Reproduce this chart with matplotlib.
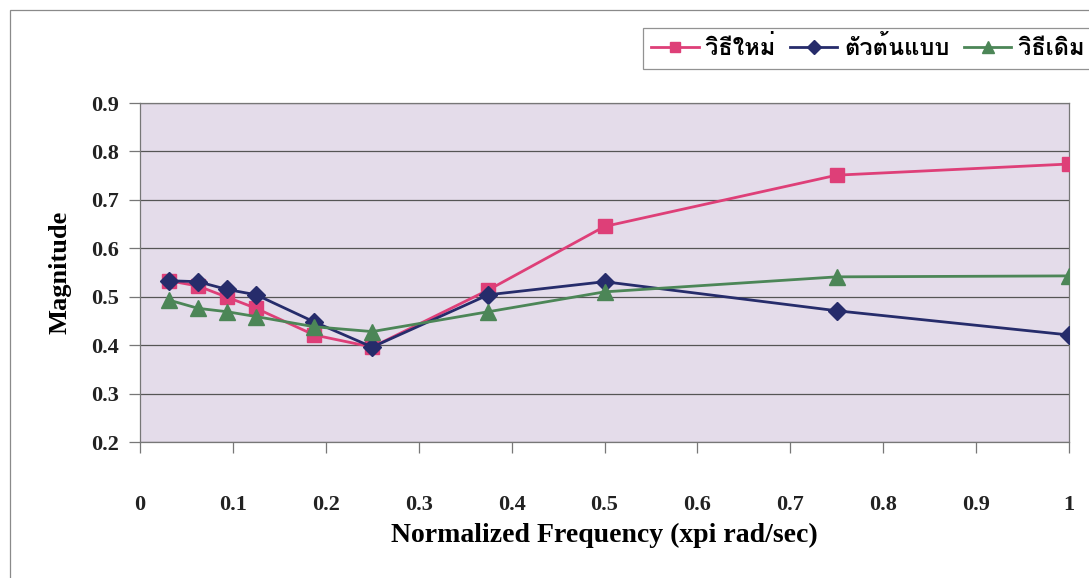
import matplotlib
matplotlib.use("Agg")
import matplotlib.pyplot as plt
from matplotlib import font_manager
from matplotlib.patches import Rectangle

# ---- data ----
freq = [0.03125, 0.0625, 0.09375, 0.125, 0.1875, 0.25, 0.375, 0.5, 0.75, 1.0]
new_method = [0.533, 0.522, 0.499, 0.476, 0.421, 0.396, 0.514, 0.645, 0.751, 0.774]
prototype = [0.533, 0.531, 0.515, 0.504, 0.448, 0.396, 0.504, 0.531, 0.471, 0.421]
old_method = [0.493, 0.476, 0.469, 0.459, 0.438, 0.428, 0.469, 0.510, 0.541, 0.543]
series_names = ["วิธีใหม่", "ตัวต้นแบบ", "วิธีเดิม"]
xticks = [0, 0.1, 0.2, 0.3, 0.4, 0.5, 0.6, 0.7, 0.8, 0.9, 1.0]
xticklabels = ["0", "0.1", "0.2", "0.3", "0.4", "0.5", "0.6", "0.7", "0.8", "0.9", "1"]
yticks = [0.2, 0.3, 0.4, 0.5, 0.6, 0.7, 0.8, 0.9]
yticklabels = ["0.2", "0.3", "0.4", "0.5", "0.6", "0.7", "0.8", "0.9"]

# ---- find a font with Thai glyphs ----
thai_font = None
try:
    from fontTools.ttLib import TTFont
    for fe in font_manager.fontManager.ttflist:
        try:
            tt = TTFont(fe.fname, fontNumber=0, lazy=True)
            cmap = tt.getBestCmap()
            if cmap and 0x0E27 in cmap and 0x0E34 in cmap:
                thai_font = fe.name
                if "bold" in str(fe.weight).lower() or fe.weight in (600, 700, 800):
                    break
        except Exception:
            continue
except Exception:
    pass
thai_family = [thai_font, "DejaVu Sans"] if thai_font else ["DejaVu Sans"]

serif = "Liberation Serif"

fig = plt.figure(figsize=(10.89, 5.78), dpi=100)
fig.patch.set_facecolor("white")

# outer chart border
fig.patches.append(Rectangle((10 / 1089, -0.05), 1.2, (578 - 10) / 578 + 0.05,
                             transform=fig.transFigure, fill=False,
                             edgecolor="#8a8a8a", linewidth=0.9))

ax = fig.add_axes([140 / 1089, (578 - 442) / 578, (1069 - 140) / 1089, (442 - 103) / 578])
ax.set_facecolor("#E4DCEA")

pink = "#DE3F78"
navy = "#262C6B"
green = "#4C8657"

l1, = ax.plot(freq, new_method, color=pink, lw=2.0, marker="s", markersize=10,
              markeredgecolor=pink, label=series_names[0], zorder=3)
l2, = ax.plot(freq, prototype, color=navy, lw=2.0, marker="D", markersize=9,
              markeredgecolor=navy, label=series_names[1], zorder=4)
l3, = ax.plot(freq, old_method, color=green, lw=2.0, marker="^", markersize=11,
              markeredgecolor=green, label=series_names[2], zorder=5)

ax.set_xlim(0, 1)
ax.set_ylim(0.2, 0.9)
ax.set_xticks(xticks)
ax.set_xticklabels(xticklabels)
ax.set_yticks(yticks)
ax.set_yticklabels(yticklabels)
ax.grid(axis="y", color="#555555", linewidth=0.9)
ax.set_axisbelow(True)

for s in ax.spines.values():
    s.set_color("#777777")
    s.set_linewidth(0.9)

ax.tick_params(axis="x", direction="out", length=8, width=0.9, color="#777777",
               pad=30, labelsize=16)
ax.tick_params(axis="y", direction="out", length=8, width=0.9, color="#777777",
               pad=7, labelsize=16)
for lab in ax.get_xticklabels() + ax.get_yticklabels():
    lab.set_fontfamily(serif)
    lab.set_fontweight("bold")
    lab.set_color("#222222")

ax.set_xlabel("Normalized Frequency (xpi rad/sec)", fontfamily=serif,
              fontweight="bold", fontsize=20, labelpad=6)
ax.set_ylabel("Magnitude", fontfamily=serif, fontweight="bold", fontsize=19,
              labelpad=14)

leg = fig.legend(handles=[l1, l2, l3], loc="upper right",
                 bbox_to_anchor=(1093 / 1089, (578 - 28) / 578), ncol=3,
                 frameon=True, fancybox=False, borderpad=0.35, borderaxespad=0,
                 handlelength=2.0, handletextpad=0.3, columnspacing=0.6,
                 markerscale=0.75,
                 prop={"family": thai_family, "weight": "bold", "size": 17})
leg.get_frame().set_edgecolor("#777777")
leg.get_frame().set_linewidth(0.9)

fig.savefig("out.png", dpi=100, facecolor="white")
